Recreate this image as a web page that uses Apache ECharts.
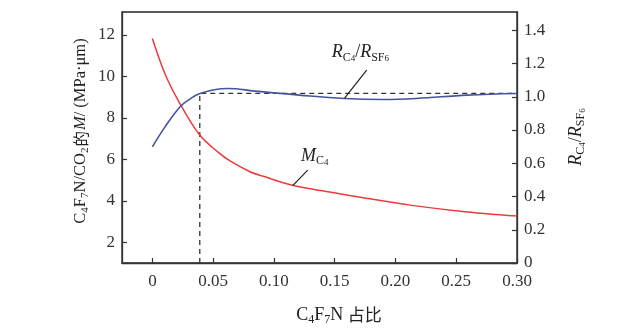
<!DOCTYPE html>
<html>
<head>
<meta charset="utf-8">
<script src="https://cdn.jsdelivr.net/npm/echarts@6/dist/echarts.min.js"></script>
<style>html,body{margin:0;padding:0;background:#fff;}#c{width:640px;height:328px;}</style>
</head>
<body>
<div id="c"></div>
<script>
// ---- data ----
const xTicks = [0, 0.05, 0.10, 0.15, 0.20, 0.25, 0.30];
const leftTicks = [2, 4, 6, 8, 10, 12];
const rightTicks = [0, 0.2, 0.4, 0.6, 0.8, 1.0, 1.2, 1.4];

const mX = [0, 0.0104, 0.0214, 0.0384, 0.0543, 0.0639, 0.0803, 0.0913, 0.1146, 0.146, 0.176, 0.212, 0.253, 0.30];
const mY = [11.82, 10.11, 8.82, 7.21, 6.33, 5.92, 5.40, 5.18, 4.76, 4.42, 4.12, 3.79, 3.50, 3.26];

const rX = [0, 0.0104, 0.0228, 0.0296, 0.0392, 0.0625, 0.0845, 0.121, 0.158, 0.19, 0.217, 0.259, 0.30];
const rY = [0.699, 0.819, 0.94, 0.98, 1.02, 1.05, 1.034, 1.01, 0.99, 0.984, 0.99, 1.01, 1.02];

const refX = [0.039, 0.039, 0.30];
const refY = [0, 1.02, 1.02];

const mLeaderX = [0.1278, 0.1155];
const mLeaderY = [5.48, 4.73];
const rLeaderX = [0.1763, 0.158];
const rLeaderY = [1.161, 0.99];

const mLabelAt = [0.1223, 6.16];
const rLabelAt = [0.1475, 1.266];

const zip = (a, b) => a.map((v, i) => [v, b[i]]);

const FONT = "'Liberation Serif', 'Noto Sans CJK SC', serif";
const CJK = "'Noto Sans CJK SC', sans-serif";
const axisColor = '#333';
const labelStyle = { fontFamily: FONT, fontSize: 17, color: '#333' };

const chart = echarts.init(document.getElementById('c'), null, { renderer: 'canvas' });

const option = {
  backgroundColor: '#fff',
  animation: false,
  grid: { left: 122, right: 123, top: 12, bottom: 65, show: true, borderColor: '#222', borderWidth: 1.3, backgroundColor: 'transparent', outerBoundsMode: 'none', containLabel: false },
  xAxis: {
    type: 'value', min: -0.025, max: 0.30,
    axisLine: { show: true, onZero: false, lineStyle: { color: axisColor, width: 1.3 } },
    axisTick: { show: true, inside: true, length: 5, lineStyle: { color: axisColor, width: 1.2 }, customValues: xTicks },
    axisLabel: Object.assign({ margin: 10, customValues: xTicks, formatter: v => v === 0 ? '0' : v.toFixed(2) }, labelStyle),
    splitLine: { show: false }
  },
  yAxis: [
    {
      type: 'value', min: 1, max: 13.1, position: 'left',
      axisLine: { show: true, onZero: false, lineStyle: { color: axisColor, width: 1.3 } },
      axisTick: { show: true, inside: true, length: 5, lineStyle: { color: axisColor, width: 1.2 }, customValues: leftTicks },
      axisLabel: Object.assign({ margin: 7, customValues: leftTicks, formatter: v => String(v) }, labelStyle),
      splitLine: { show: false }
    },
    {
      type: 'value', min: 0, max: 1.51, position: 'right',
      axisLine: { show: true, onZero: false, lineStyle: { color: axisColor, width: 1.3 } },
      axisTick: { show: true, inside: true, length: 5, lineStyle: { color: axisColor, width: 1.2 }, customValues: rightTicks },
      axisLabel: Object.assign({ margin: 7, customValues: rightTicks, formatter: v => v === 0 ? '0' : v.toFixed(1) }, labelStyle),
      splitLine: { show: false }
    }
  ],
  series: [
    { type: 'line', name: 'M', yAxisIndex: 0, data: zip(mX, mY), smooth: 0.35, showSymbol: false, lineStyle: { color: '#ee3a3a', width: 1.5 }, z: 3 },
    { type: 'line', name: 'R', yAxisIndex: 1, data: zip(rX, rY), smooth: 0.4, showSymbol: false, lineStyle: { color: '#4455a0', width: 1.6 }, z: 3 },
    { type: 'line', name: 'ref', yAxisIndex: 1, data: zip(refX, refY), showSymbol: false, lineStyle: { color: '#333', width: 1.3, type: [5, 4] }, z: 2 },
    { type: 'line', name: 'mLeader', yAxisIndex: 0, data: zip(mLeaderX, mLeaderY), showSymbol: false, lineStyle: { color: '#222', width: 1.2 }, z: 4 },
    { type: 'line', name: 'rLeader', yAxisIndex: 1, data: zip(rLeaderX, rLeaderY), showSymbol: false, lineStyle: { color: '#222', width: 1.2 }, z: 4 }
  ]
};
chart.setOption(option);

const pM = chart.convertToPixel({ xAxisIndex: 0, yAxisIndex: 0 }, mLabelAt);
const pR = chart.convertToPixel({ xAxisIndex: 0, yAxisIndex: 1 }, rLabelAt);

const richBase = {
  n: { fontFamily: FONT, fontSize: 18, lineHeight: 22, fill: '#222' },
  c: { fontFamily: CJK, fontSize: 17, lineHeight: 22, fill: '#222' },
  i: { fontFamily: FONT, fontSize: 18, lineHeight: 22, fontStyle: 'italic', fill: '#222' },
  s: { fontFamily: FONT, fontSize: 12, lineHeight: 11, verticalAlign: 'bottom', fill: '#222' },
  ss: { fontFamily: FONT, fontSize: 9, lineHeight: 2, verticalAlign: 'bottom', fill: '#222' }
};
const richLeft = {
  n: { fontFamily: FONT, fontSize: 16.5, lineHeight: 20, fill: '#222' },
  c: { fontFamily: CJK, fontSize: 15.5, lineHeight: 20, fill: '#222', padding: [0, 1, 0, 1] },
  i: { fontFamily: FONT, fontSize: 16.5, lineHeight: 20, fontStyle: 'italic', fill: '#222' },
  s: { fontFamily: FONT, fontSize: 11, lineHeight: 10, verticalAlign: 'bottom', fill: '#222' }
};

chart.setOption({
  graphic: [
    { type: 'text', x: 339, y: 315, style: { text: '{n|C}{s|4}{n|F}{s|7}{n|N }{c|占比}', rich: richBase, align: 'center', verticalAlign: 'middle' } },
    { type: 'text', x: 81, y: 131, rotation: Math.PI / 2, style: { text: '{n|C}{s|4}{n|F}{s|7}{n|N/CO}{s|2}{c|的}{i|M}{n|/ (MPa·μm)}', rich: richLeft, align: 'center', verticalAlign: 'middle' } },
    { type: 'text', x: 576, y: 137, rotation: Math.PI / 2, style: { text: '{i|R}{s|C}{ss|4}{n|/}{i|R}{s|SF}{ss|6}', rich: richBase, align: 'center', verticalAlign: 'middle' } },
    { type: 'text', x: pM[0], y: pM[1], style: { text: '{i|M}{s|C}{ss|4}', rich: richBase, align: 'left', verticalAlign: 'middle' } },
    { type: 'text', x: pR[0], y: pR[1], style: { text: '{i|R}{s|C}{ss|4}{n|/}{i|R}{s|SF}{ss|6}', rich: richBase, align: 'left', verticalAlign: 'middle' } }
  ]
});
</script>
</body>
</html>
